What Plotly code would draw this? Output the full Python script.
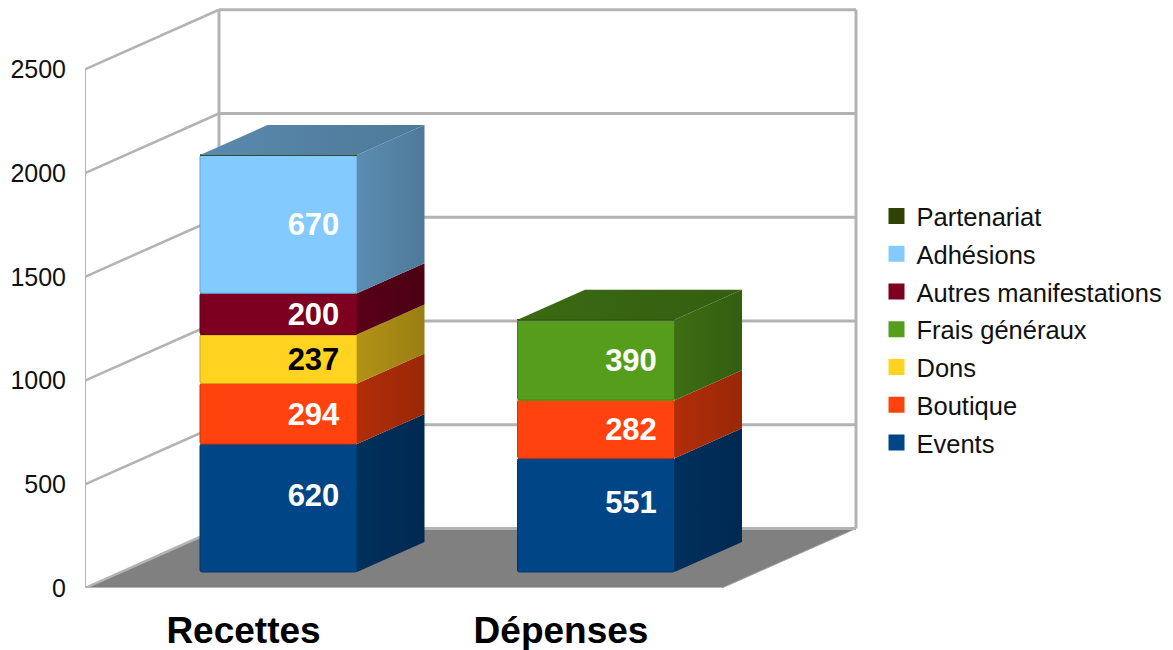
import plotly.graph_objects as go

categories = ["Recettes", "Dépenses"]
series_names = ["Events", "Boutique", "Dons", "Frais généraux", "Autres manifestations", "Adhésions", "Partenariat"]
events = [620, 551]
boutique = [294, 282]
dons = [237, 0]
frais = [0, 390]
autres = [200, 0]
adhesions = [670, 0]
partenariat = [0, 0]
series_values = [events, boutique, dons, frais, autres, adhesions, partenariat]
colors = ["#004586", "#ff420e", "#ffd320", "#579d1c", "#7e0021", "#83caff", "#314004"]
y_ticks = [0, 500, 1000, 1500, 2000, 2500]

FONT = "Liberation Sans"
PAGE = 8  # the page's own margin around the figure
W, H = 1173, 650
ML, MR, MT, MB = 85 - PAGE, 0, 0, H - (588 - PAGE)
PX_PER_CAT = 317.5
CAT0_PX = 278.5 - PAGE
BAR_W = 157 / PX_PER_CAT
XR = [(ML - CAT0_PX) / PX_PER_CAT, (W - MR - CAT0_PX) / PX_PER_CAT]
WALL_SCALE = 0.2075
BAR_SCALE = 0.2063
BAR_BASE_PX = 572 - PAGE
AXIS_BASE_PX = 588 - PAGE
TOP_PX = MT
YR1 = [0, (AXIS_BASE_PX - TOP_PX) / WALL_SCALE]
YR2 = [(BAR_BASE_PX - AXIS_BASE_PX) / BAR_SCALE, (BAR_BASE_PX - TOP_PX) / BAR_SCALE]

# depth of the pseudo-3D box and of each bar, in axis units
WALL_DX, WALL_DY = 134 / PX_PER_CAT, 59.5 / WALL_SCALE
BAR_DX, BAR_DY = 67.5 / PX_PER_CAT, 30 / BAR_SCALE
FLOOR_W = 637 / PX_PER_CAT
LABEL_DX = 35 / PX_PER_CAT
LABEL_DROP = 3 / BAR_SCALE
BASE_LABEL_LIFT = 13 / BAR_SCALE
CAT_LABEL_SHIFT = -35 / PX_PER_CAT
GRID = "#b3b3b3"


def shade(hex_color, f):
    r, g, b = (int(hex_color[i:i + 2], 16) for i in (1, 3, 5))
    return f"rgb({int(r * f)},{int(g * f)},{int(b * f)})"


fig = go.Figure()
x0 = XR[0]
x1 = x0 + FLOOR_W

# floor
fig.add_trace(go.Scatter(
    x=[x0, x0 + WALL_DX, x1 + WALL_DX, x1, x0], y=[0, WALL_DY, WALL_DY, 0, 0],
    mode="lines", fill="toself", fillcolor="#808080", line=dict(color="#a0a0a0", width=1),
    showlegend=False, hoverinfo="skip", cliponaxis=False))

# left wall grid (thin) and back wall grid (thicker)
lx, ly, bx, by = [], [], [], []
for t in y_ticks:
    lx += [x0, x0 + WALL_DX, None]
    ly += [t, t + WALL_DY, None]
    bx += [x0 + WALL_DX, x1 + WALL_DX, None]
    by += [t + WALL_DY, t + WALL_DY, None]
fig.add_trace(go.Scatter(x=lx, y=ly, mode="lines", line=dict(color=GRID, width=2.5),
                         showlegend=False, hoverinfo="skip", cliponaxis=False))
fig.add_trace(go.Scatter(x=bx[:-1], y=by[:-1], mode="lines", line=dict(color=GRID, width=3),
                         connectgaps=False, showlegend=False, hoverinfo="skip", cliponaxis=False))
fig.add_trace(go.Scatter(
    x=[x0 + WALL_DX, x0 + WALL_DX, None, x1 + WALL_DX, x1 + WALL_DX],
    y=[0 + WALL_DY, y_ticks[-1] + WALL_DY, None, 0 + WALL_DY, y_ticks[-1] + WALL_DY],
    mode="lines", line=dict(color=GRID, width=3), showlegend=False, hoverinfo="skip", cliponaxis=False))
fig.add_trace(go.Scatter(
    x=[x0, x0, None, x0, x1], y=[0, y_ticks[-1], None, 0, 0],
    mode="lines", line=dict(color=GRID, width=2), showlegend=False, hoverinfo="skip", cliponaxis=False))

# bars and their side/top faces, on the second y axis
positions = list(range(len(categories)))
base = [0] * len(categories)
totals = [sum(v[i] for v in series_values) for i in positions]
faces = []
texts = []
for s, (name, vals, col) in enumerate(zip(series_names, series_values, colors)):
    fig.add_trace(go.Bar(
        x=positions, y=vals, base=base, width=BAR_W, name=name,
        marker=dict(color=col, line=dict(color=shade(col, 0.8), width=1)),
        xaxis="x", yaxis="y2", showlegend=False, hoverinfo="skip"))
    for i in positions:
        v = vals[i]
        if v == 0:
            continue
        xr = i + BAR_W / 2
        xl = i - BAR_W / 2
        b, t = base[i], base[i] + v
        faces.append(go.Scatter(
            x=[xr, xr + BAR_DX, xr + BAR_DX, xr, xr],
            y=[b, b + BAR_DY, t + BAR_DY, t, b],
            mode="lines", line=dict(width=0), fill="toself",
            fillgradient=dict(type="horizontal", colorscale=[[0, shade(col, 0.70)], [1, shade(col, 0.60)]]),
            xaxis="x", yaxis="y2", showlegend=False, hoverinfo="skip"))
        if t == totals[i]:
            faces.append(go.Scatter(
                x=[xl, xl + BAR_DX, xr + BAR_DX, xr, xl],
                y=[t, t + BAR_DY, t + BAR_DY, t, t],
                mode="lines", line=dict(width=0), fill="toself",
                fillgradient=dict(type="horizontal", colorscale=[[0, shade(col, 0.68)], [1, shade(col, 0.60)]]),
                xaxis="x", yaxis="y2", showlegend=False, hoverinfo="skip"))
        texts.append(go.Scatter(
            x=[i + LABEL_DX], y=[(b + t) / 2 - LABEL_DROP + (BASE_LABEL_LIFT if b == 0 else 0)],
            text=[str(v)], mode="text", textposition="middle center",
            textfont=dict(family=FONT, size=31, color="#000000" if name == "Dons" else "#ffffff", weight="bold"),
            xaxis="x", yaxis="y2", showlegend=False, hoverinfo="skip", cliponaxis=False))
    base = [a + b for a, b in zip(base, vals)]
for tr in faces + texts:
    fig.add_trace(tr)

# legend entries, top row first
for name, col in reversed(list(zip(series_names, colors))):
    fig.add_trace(go.Scatter(
        x=[None], y=[None], mode="markers", name=name, legendgroup=name,
        marker=dict(symbol="square", size=16, color=col), xaxis="x", yaxis="y2"))

fig.update_layout(
    width=W, height=H,
    margin=dict(l=ML, r=MR, t=MT, b=MB, autoexpand=False),
    paper_bgcolor="white", plot_bgcolor="white",
    barmode="overlay", barcornerradius=2,
    font=dict(family=FONT, color="#111111"),
    xaxis=dict(range=XR, showgrid=False, zeroline=False, showline=False,
               tickvals=[i + CAT_LABEL_SHIFT for i in positions], ticktext=categories,
               ticks="outside", ticklen=10, tickcolor="rgba(0,0,0,0)",
               tickfont=dict(family=FONT, size=37, color="#000000", weight="bold")),
    yaxis=dict(range=YR1, showgrid=False, zeroline=False, showline=False,
               tickvals=y_ticks, ticks="outside", ticklen=13, tickcolor="rgba(0,0,0,0)",
               tickfont=dict(family=FONT, size=25, color="#111111")),
    yaxis2=dict(range=YR2, overlaying="y", visible=False),
    legend=dict(x=(868.5 - ML) / (W - ML - MR), xanchor="left", y=1 - (185 - MT) / (H - MT - MB), yanchor="top",
                traceorder="grouped", tracegroupgap=1.6, itemclick=False, itemdoubleclick=False,
                font=dict(family=FONT, size=25.5, color="#111111"), bgcolor="rgba(0,0,0,0)"),
    showlegend=True,
)
fig.write_html("out.html")
